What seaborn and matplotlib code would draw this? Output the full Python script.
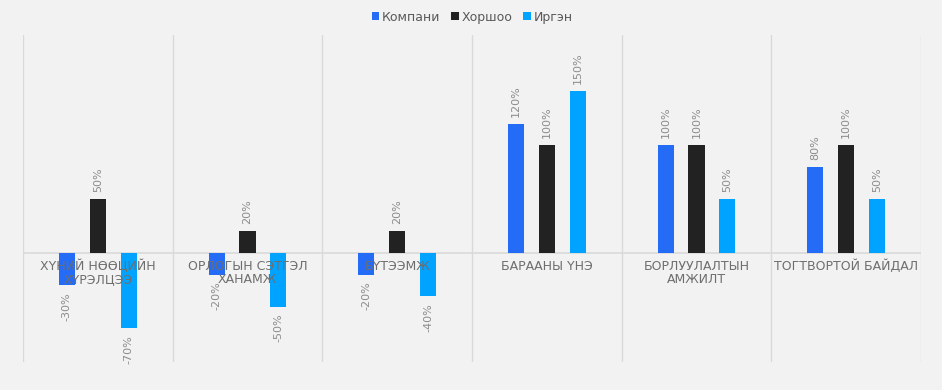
import numpy as np
import pandas as pd
import seaborn as sns
import matplotlib
matplotlib.use("Agg")
from matplotlib import pyplot as plt

categories = ["ХҮНИЙ НӨӨЦИЙН\nХҮРЭЛЦЭЭ", "ОРЛОГЫН СЭТГЭЛ\nХАНАМЖ", "БҮТЭЭМЖ",
              "БАРААНЫ ҮНЭ", "БОРЛУУЛАЛТЫН\nАМЖИЛТ", "ТОГТВОРТОЙ БАЙДАЛ"]
series = ["Компани", "Хоршоо", "Иргэн"]
kompani = [-30, -20, -20, 120, 100, 80]
khorshoo = [50, 20, 20, 100, 100, 100]
irgen = [-70, -50, -40, 150, 50, 50]
colors = ["#246bf5", "#222222", "#00a3ff"]

df = pd.DataFrame({
    "cat": categories * 3,
    "series": [s for s in series for _ in categories],
    "value": kompani + khorshoo + irgen,
})

sns.set_style("white")
plt.rcParams["font.family"] = ["DejaVu Sans"]
bg = "#f2f2f2"
fig = plt.figure(figsize=(9.42, 3.9), dpi=100, facecolor=bg)
ax = fig.add_axes([0.0244, 0.072, 0.9533, 0.838])
ax.set_facecolor(bg)

sns.barplot(data=df, x="cat", y="value", hue="series", hue_order=series,
            palette=colors, width=0.62, gap=0.48, ax=ax, legend=True,
            saturation=1, linewidth=0)

for cont in ax.containers:
    ax.bar_label(cont, labels=[f"{v:.0f}%" for v in cont.datavalues],
                 rotation=90, padding=5, fontsize=8, color="#8c8c8c")

ax.set_ylim(-101, 202)
ax.set_xlim(-0.5, len(categories) - 0.5)
for i in range(len(categories) + 1):
    ax.axvline(i - 0.5, color="#d9d9d9", lw=1, zorder=0)
ax.axhline(0, color="#d9d9d9", lw=1.2, zorder=0)

ax.set_xticks([])
ax.set_yticks([])
ax.set_xlabel("")
ax.set_ylabel("")
for s in ax.spines.values():
    s.set_visible(False)

for i, c in enumerate(categories):
    ax.annotate(c, (i, 0), xytext=(0, -5), textcoords="offset points",
                ha="center", va="top", fontsize=9, color="#6e6e6e",
                linespacing=1.0)

handles, labels = ax.get_legend_handles_labels()
ax.legend(handles, labels, loc="lower center", bbox_to_anchor=(0.5, 1.0),
          ncol=3, frameon=False, fontsize=9, handlelength=0.6,
          handleheight=0.6, handletextpad=0.2, columnspacing=0.9,
          labelcolor="#595959")

fig.savefig("out.png", dpi=100, facecolor=bg)
